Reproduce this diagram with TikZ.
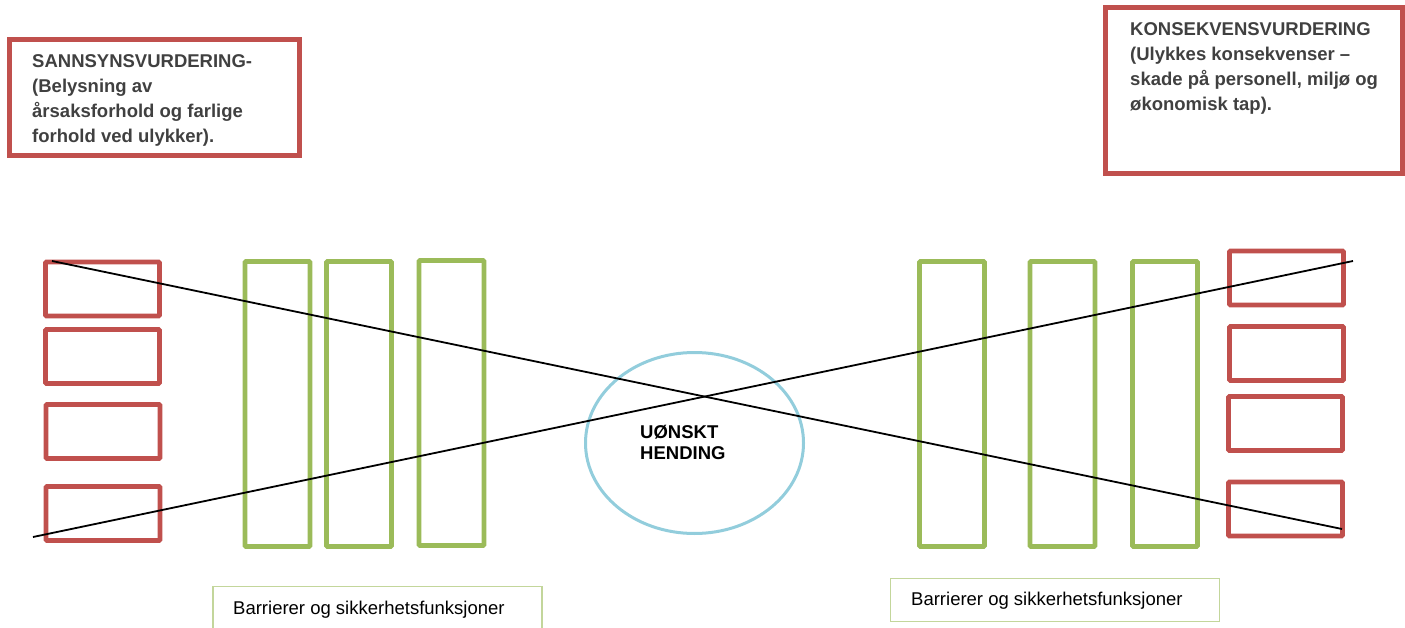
\documentclass[tikz,border=0pt]{standalone}
\usepackage{fontspec}
\setmainfont{Liberation Sans}
\usetikzlibrary{shapes.geometric}
\definecolor{redbox}{HTML}{C0504D}
\definecolor{greenbar}{HTML}{9BBB59}
\definecolor{lightgreen}{HTML}{C3D69B}
\definecolor{aqua}{HTML}{92CDDC}
\definecolor{darktext}{HTML}{404040}
\begin{document}
\begin{tikzpicture}[x=1pt,y=-1pt,
  redsmall/.style={draw=redbox, line width=4.7pt, minimum width=114pt, minimum height=54pt, inner sep=0pt, rounded corners=1pt},
  greenbar/.style={draw=greenbar, line width=4.7pt, minimum width=65pt, minimum height=285pt, inner sep=0pt, rounded corners=1pt},
  bigbox/.style={draw=redbox, line width=5pt, inner sep=0pt},
  labelbox/.style={draw=lightgreen, line width=1.5pt, minimum width=329pt, minimum height=43pt, inner sep=0pt},
  headtext/.style={anchor=base west, inner sep=0pt, align=left, text=darktext, font=\bfseries\fontsize{18.5}{25}\selectfont},
  eventtext/.style={anchor=base west, inner sep=0pt, align=left, text=black, font=\bfseries\fontsize{18.5}{21}\selectfont},
  labeltext/.style={anchor=base west, inner sep=0pt, text=black, font=\fontsize{18.5}{22}\selectfont},
  crossline/.style={draw=black, line width=1.8pt}
]
\useasboundingbox (0,0) rectangle (1405,628);
% big header boxes
\node[bigbox, minimum width=290pt, minimum height=116pt] (sbox) at (154.5,97.5) {};
\node[bigbox, minimum width=297pt, minimum height=166pt] (kbox) at (1254,90.5) {};
\node[headtext] (stext) at (32,143) {SANNSYNSVURDERING-\\(Belysning av\\årsaksforhold og farlige\\forhold ved ulykker).};
\node[headtext] (ktext) at (1130,111) {KONSEKVENSVURDERING\\(Ulykkes konsekvenser –\\skade på personell, miljø og\\økonomisk tap).};
% left red boxes
\node[redsmall] (l1) at (102.5,289) {};
\node[redsmall] (l2) at (102.5,356.5) {};
\node[redsmall] (l3) at (103,431.5) {};
\node[redsmall] (l4) at (103,513.5) {};
% right red boxes
\node[redsmall] (r1) at (1286.5,278) {};
\node[redsmall] (r2) at (1286.5,353.5) {};
\node[redsmall] (r3) at (1285.5,423.5) {};
\node[redsmall] (r4) at (1285.5,509) {};
% green barriers
\node[greenbar] (b1) at (277.5,404) {};
\node[greenbar] (b2) at (359,404) {};
\node[greenbar] (b3) at (451.5,403) {};
\node[greenbar] (b4) at (952,404) {};
\node[greenbar] (b5) at (1062.5,404) {};
\node[greenbar] (b6) at (1165,404) {};
% event ellipse
\node[ellipse, draw=aqua, line width=3pt, minimum width=218pt, minimum height=181pt, inner sep=0pt] (event) at (694.5,443) {};
\node[eventtext] (etext) at (640,459) {UØNSKT\\HENDING};
% crossing lines
\coordinate (c1a) at (52,261);
\coordinate (c1b) at (1342,529);
\coordinate (c2a) at (33,537);
\coordinate (c2b) at (1353,261);
\draw[crossline] (c1a) -- (c1b);
\draw[crossline] (c2a) -- (c2b);
% bottom labels
\node[labelbox] (lab1) at (377.5,608) {};
\node[labeltext] (lab1t) at (233,614) {Barrierer og sikkerhetsfunksjoner};
\node[labelbox] (lab2) at (1055,600) {};
\node[labeltext] (lab2t) at (911,605) {Barrierer og sikkerhetsfunksjoner};
\end{tikzpicture}
\end{document}
